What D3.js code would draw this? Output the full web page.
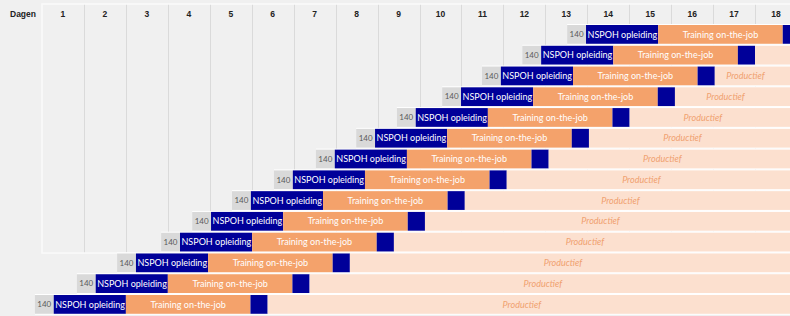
<!DOCTYPE html>
<html lang="en">
<head>
<meta charset="UTF-8">
<style>
    body { margin: 0; background: #f0f0f0; font-family: Lato, "Open Sans", sans-serif; }
    #chart { display: block; }
    .hdr text { font-size: 8.5px; font-weight: bold; fill: #222; }
    .grid line { stroke: #dadada; stroke-width: 1; }
</style>
<script src="https://d3js.org/d3.v7.min.js"></script>
</head>
<body>
<svg id="chart" width="790" height="316"></svg>
<script>
    // months in header
    var months = d3.range(1, 19);
    // start month of each cohort (top row first)
    var rowStarts = [12.52, 11.45, 10.49, 9.54, 8.46, 7.49, 6.53, 5.53, 4.53, 3.58, 2.84, 1.79, 0.83, -0.17];
    var phaseNames = ["140", "NSPOH opleiding", "Training on-the-job", "", "Productief"];
    var phaseDurations = [0.45, 1.72, 2.97, 0.41];
    var phaseColors = ["#d9d9d9", "#000099", "#f4a26b", "#000099", "#fce0cf"];
    var horizonEnd = 18;
    var labelEnd = 17.5;

    var width = 790, height = 316;
    var svg = d3.select("#chart");

    var x = d3.scaleLinear().domain([0, 18]).range([42, 797]);
    var col = d3.scaleBand().domain(months).range([42, 797]);
    var y = d3.scaleBand().domain(d3.range(rowStarts.length)).range([25, 25 + rowStarts.length * 20.77]);

    // grid area
    var gridBottom = 253;
    svg.append("g").attr("class", "grid")
        .selectAll("line")
        .data(d3.range(1, 18))
        .enter().append("line")
        .attr("x1", function(d) { return Math.round(x(d)) + 0.5; })
        .attr("x2", function(d) { return Math.round(x(d)) + 0.5; })
        .attr("y1", 4)
        .attr("y2", gridBottom);

    svg.append("rect")
        .attr("x", x(0)).attr("y", 4)
        .attr("width", x(18) - x(0)).attr("height", gridBottom - 4)
        .attr("fill", "none").attr("stroke", "#fafafa").attr("stroke-width", 1.5);

    // header
    var hdr = svg.append("g").attr("class", "hdr")
        .attr("transform", "translate(0,17)")
        .call(d3.axisTop(col).tickSize(0).tickPadding(0));
    hdr.select(".domain").remove();
    hdr.selectAll("text").attr("font-family", null);
    hdr.append("text")
        .attr("x", 10).attr("y", 0)
        .attr("text-anchor", "start")
        .text("Dagen");

    // build segments for each row
    var rows = rowStarts.map(function(s, i) {
        var segs = [], cur = s;
        phaseDurations.forEach(function(dur, k) {
            segs.push({ k: k, name: phaseNames[k], x0: cur, x1: cur + dur });
            cur += dur;
        });
        segs.push({ k: 4, name: phaseNames[4], x0: cur, x1: horizonEnd });
        return { i: i, start: s, segs: segs };
    });

    var rowG = svg.selectAll(".row")
        .data(rows)
        .enter().append("g")
        .attr("class", "row")
        .attr("transform", function(d) { return "translate(0," + y(d.i) + ")"; });

    rowG.append("rect")
        .attr("x", function(d) { return x(d.start); })
        .attr("y", -1)
        .attr("width", function(d) { return x(horizonEnd) - x(d.start); })
        .attr("height", y.bandwidth())
        .attr("fill", "#ffffff");

    var bh = y.bandwidth() - 2;

    var seg = rowG.selectAll(".seg")
        .data(function(d) { return d.segs; })
        .enter().append("g")
        .attr("class", "seg");

    seg.append("rect")
        .attr("x", function(d) { return x(d.x0); })
        .attr("y", 0)
        .attr("width", function(d) { return x(d.x1) - x(d.x0); })
        .attr("height", bh)
        .attr("fill", function(d) { return phaseColors[d.k]; });

    seg.filter(function(d) { return d.name !== "" && (d.k !== 4 || x(labelEnd) - x(d.x0) > 45); })
        .append("text")
        .attr("x", function(d) {
            if (d.k === 1) return x(d.x0) + 1.5;
            if (d.k === 4) return (x(d.x0) + x(labelEnd)) / 2;
            return (x(d.x0) + x(d.x1)) / 2;
        })
        .attr("y", bh / 2)
        .attr("dy", "0.35em")
        .attr("text-anchor", function(d) { return d.k === 1 ? "start" : "middle"; })
        .attr("font-size", function(d) { return d.k === 0 ? "8px" : "9px"; })
        .attr("font-style", function(d) { return d.k === 4 ? "italic" : null; })
        .attr("fill", function(d) {
            if (d.k === 0) return "#595959";
            if (d.k === 4) return "#f0a070";
            return "#ffffff";
        })
        .text(function(d) { return d.name; });
</script>
</body>
</html>
